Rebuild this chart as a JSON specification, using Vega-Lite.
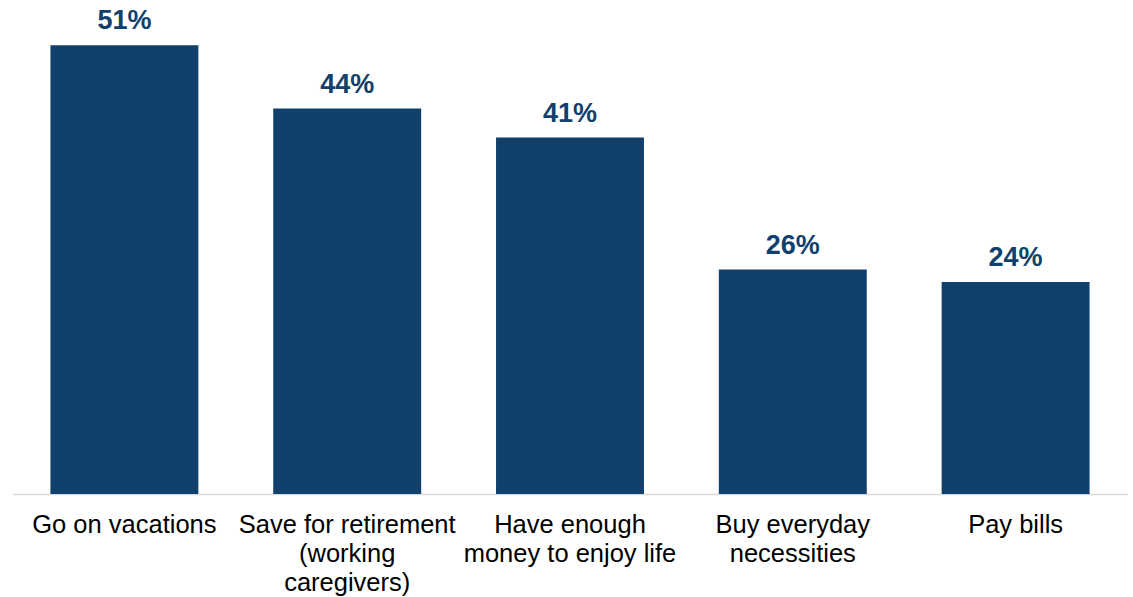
{
  "$schema": "https://vega.github.io/schema/vega-lite/v6.json",
  "autosize": "none",
  "width": 1114,
  "height": 484,
  "padding": {"left": 13, "top": 10, "right": 6, "bottom": 103},
  "background": "white",
  "config": {"view": {"stroke": null}, "font": "Liberation Sans"},
  "data": {"values": [
    {"category": "Go on vacations", "value": 51, "label": "51%"},
    {"category": "Save for retirement|(working|caregivers)", "value": 43.8, "label": "44%"},
    {"category": "Have enough|money to enjoy life", "value": 40.5, "label": "41%"},
    {"category": "Buy everyday|necessities", "value": 25.5, "label": "26%"},
    {"category": "Pay bills", "value": 24.1, "label": "24%"}
  ]},
  "encoding": {
    "x": {"field": "category", "type": "nominal", "sort": null,
      "scale": {"paddingInner": 0.336, "paddingOuter": 0.168},
      "axis": {"title": null, "labelAngle": 0, "ticks": false, "grid": false,
        "domainColor": "#d9d9d9", "domainWidth": 1.5,
        "labelExpr": "split(datum.label, '|')",
        "labelFont": "Liberation Sans", "labelFontSize": 25.5, "labelColor": "#000000",
        "labelPadding": 18, "labelLineHeight": 29, "labelLimit": 400, "labelBaseline": "top"}},
    "y": {"field": "value", "type": "quantitative", "scale": {"domain": [0, 55]}, "axis": null}
  },
  "layer": [
    {"mark": {"type": "bar", "color": "#11406d"}},
    {"mark": {"type": "text", "baseline": "alphabetic", "dy": -16, "font": "Liberation Sans", "fontSize": 27, "fontWeight": "bold", "color": "#11406d"},
     "encoding": {"text": {"field": "label"}}}
  ]
}
